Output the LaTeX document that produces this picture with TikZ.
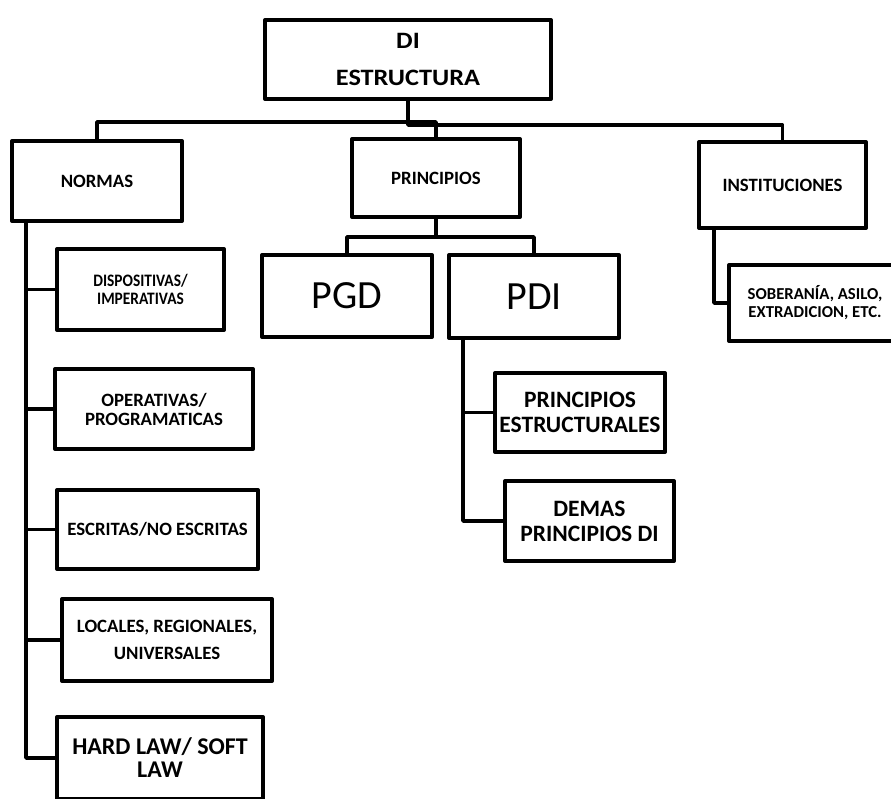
\documentclass[tikz,border=0pt]{standalone}
\usepackage{fontspec}
\setmainfont{Carlito}
\newfontfamily\narrowfont[FakeStretch=0.88]{Carlito}
\newfontfamily\widefont[FakeStretch=1.12]{Carlito}

\begin{document}
\begin{tikzpicture}[x=1pt,y=-1pt,
    box/.style={draw,line width=4pt,line join=round,align=center,inner sep=0pt},
    link/.style={line width=3.8pt,line join=round},
    small/.style={font=\fontsize{18.8}{19}\selectfont\bfseries},
    mid/.style={font=\fontsize{23.5}{25}\selectfont\bfseries},
    big/.style={font=\fontsize{40}{40}\selectfont}]
  \useasboundingbox (0,0) rectangle (891,799);
  \clip (0,0) rectangle (891,799);
  % top level
  \node[box,minimum width=286pt,minimum height=79pt,
    font=\widefont\fontsize{23.5}{37}\selectfont\bfseries] (di) at (408,59.5) {DI\\ESTRUCTURA};
  \node[box,small,minimum width=170pt,minimum height=80pt] (normas) at (97,181) {NORMAS};
  \node[box,small,minimum width=168pt,minimum height=78pt] (princ) at (436,178) {PRINCIPIOS};
  \node[box,small,minimum width=167pt,minimum height=86pt] (inst) at (782.5,185) {INSTITUCIONES};
  \draw[link] (di.south) -- ++(0,21) -| (normas.north);
  \draw[link] (di.south) -- ++(0,24) -| (inst.north);
  \draw[link] (princ.north) -- ++(0,-15) -| (di.south);
  % normas
  \node[box,minimum width=167pt,minimum height=81pt,
    font=\narrowfont\fontsize{17.5}{18}\selectfont\bfseries] (disp) at (140.5,289.5) {DISPOSITIVAS/\\IMPERATIVAS};
  \node[box,small,minimum width=198pt,minimum height=80pt] (oper) at (154,409) {OPERATIVAS/\\PROGRAMATICAS};
  \node[box,small,minimum width=201pt,minimum height=79pt] (escr) at (157.5,529.5) {ESCRITAS/NO ESCRITAS};
  \node[box,small,minimum width=210pt,minimum height=82pt] (loc) at (167,640) {LOCALES, REGIONALES,\\[8pt]UNIVERSALES};
  \node[box,font=\fontsize{24}{23}\selectfont\bfseries,
    minimum width=206pt,minimum height=82pt] (hard) at (160,758) {HARD LAW/ SOFT\\LAW};
  \foreach \n in {disp,oper,escr,loc,hard}
    \draw[link] ([xshift=16pt]normas.south west) |- (\n.west);
  % principios
  \node[box,big,minimum width=170pt,minimum height=82pt] (pgd) at (347,296) {PGD};
  \node[box,big,minimum width=170pt,minimum height=83pt] (pdi) at (534,296.5) {PDI};
  \draw[link] (princ.south) -- ++(0,18) -| (pgd.north);
  \draw[link] (princ.south) -- ++(0,18) -| (pdi.north);
  \node[box,mid,minimum width=170pt,minimum height=79pt] (pestr) at (580,412.5) {PRINCIPIOS\\ESTRUCTURALES};
  \node[box,mid,minimum width=169pt,minimum height=80pt] (demas) at (589.5,521) {DEMAS\\PRINCIPIOS DI};
  \foreach \n in {pestr,demas}
    \draw[link] ([xshift=16pt]pdi.south west) |- (\n.west);
  % instituciones
  \node[box,minimum width=172pt,minimum height=76pt,
    font=\fontsize{16.7}{18}\selectfont\bfseries] (sob) at (815,303) {SOBERANÍA, ASILO,\\EXTRADICION, ETC.};
  \draw[link] ([xshift=17pt]inst.south west) |- (sob.west);
\end{tikzpicture}
\end{document}
